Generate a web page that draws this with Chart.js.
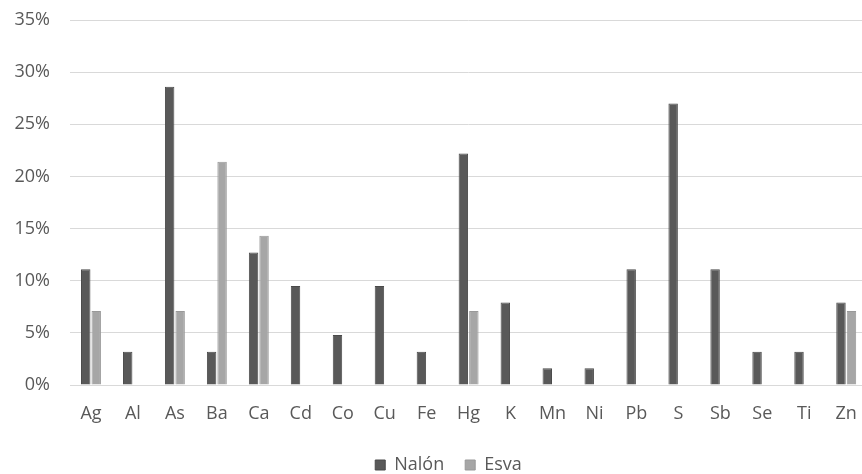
<!DOCTYPE html>
<html>
<head>
<meta charset="utf-8">
<script src="https://cdn.jsdelivr.net/npm/chart.js@4.4.0/dist/chart.umd.min.js"></script>
<style>
    html, body { margin: 0; padding: 0; background: #fff; overflow: hidden; }
    #wrap { width: 875px; height: 474px; }
</style>
</head>
<body>
<div id="wrap"><canvas id="chart"></canvas></div>
<script>
    // Data
    var elements = ["Ag", "Al", "As", "Ba", "Ca", "Cd", "Co", "Cu", "Fe", "Hg", "K", "Mn", "Ni", "Pb", "S", "Sb", "Se", "Ti", "Zn"];
    var nalon = [11.1, 3.2, 28.6, 3.2, 12.7, 9.5, 4.8, 9.5, 3.2, 22.2, 7.9, 1.6, 1.6, 11.1, 27.0, 11.1, 3.2, 3.2, 7.9];
    var esva = [7.1, 0, 7.1, 21.4, 14.3, 0, 0, 0, 0, 7.1, 0, 0, 0, 0, 0, 0, 0, 0, 7.1];
    var yTicks = [0, 5, 10, 15, 20, 25, 30, 35];

    Chart.defaults.font.family = "'Open Sans', sans-serif";
    Chart.defaults.color = "#595959";

    // nudge the legend a bit right, like the original
    var legendShift = {
        id: "legendShift",
        afterLayout: function (chart) {
            chart.legend.left += 13;
            chart.legend.right += 13;
        }
    };

    var ctx = document.getElementById("chart").getContext("2d");
    var myChart = new Chart(ctx, {
        type: "bar",
        data: {
            labels: elements,
            datasets: [{
                    label: "Nalón",
                    data: nalon,
                    backgroundColor: "#595959",
                    borderColor: "#4a4a4a",
                    borderWidth: 1
                },
                {
                    label: "Esva",
                    data: esva,
                    backgroundColor: "#a6a6a6",
                    borderColor: "#999999",
                    borderWidth: 1
                }
            ]
        },
        plugins: [legendShift],
        options: {
            responsive: true,
            maintainAspectRatio: false,
            animation: false,
            layout: { padding: { top: 20, right: 4, left: 0, bottom: -10 } },
            categoryPercentage: 0.5,
            barPercentage: 0.9,
            plugins: {
                legend: {
                    position: "bottom",
                    labels: {
                        boxWidth: 10,
                        boxHeight: 10,
                        padding: 21,
                        font: { size: 18 }
                    }
                },
                tooltip: { enabled: false }
            },
            scales: {
                x: {
                    afterFit: function (s) { s.height = 50; },
                    grid: { display: false, drawTicks: false },
                    border: { display: false },
                    ticks: { padding: 18, font: { size: 18 } }
                },
                y: {
                    min: 0,
                    max: 35,
                    afterFit: function (s) { s.width = 70; },
                    afterBuildTicks: function (s) {
                        s.ticks = yTicks.map(function (v) { return { value: v }; });
                    },
                    grid: { color: "#d9d9d9", lineWidth: 1, drawTicks: true, tickLength: 17, tickColor: "rgba(0,0,0,0)" },
                    border: { display: false },
                    ticks: {
                        padding: 3,
                        font: { size: 18 },
                        callback: function (v) { return v + "%"; }
                    }
                }
            }
        }
    });
</script>
</body>
</html>
